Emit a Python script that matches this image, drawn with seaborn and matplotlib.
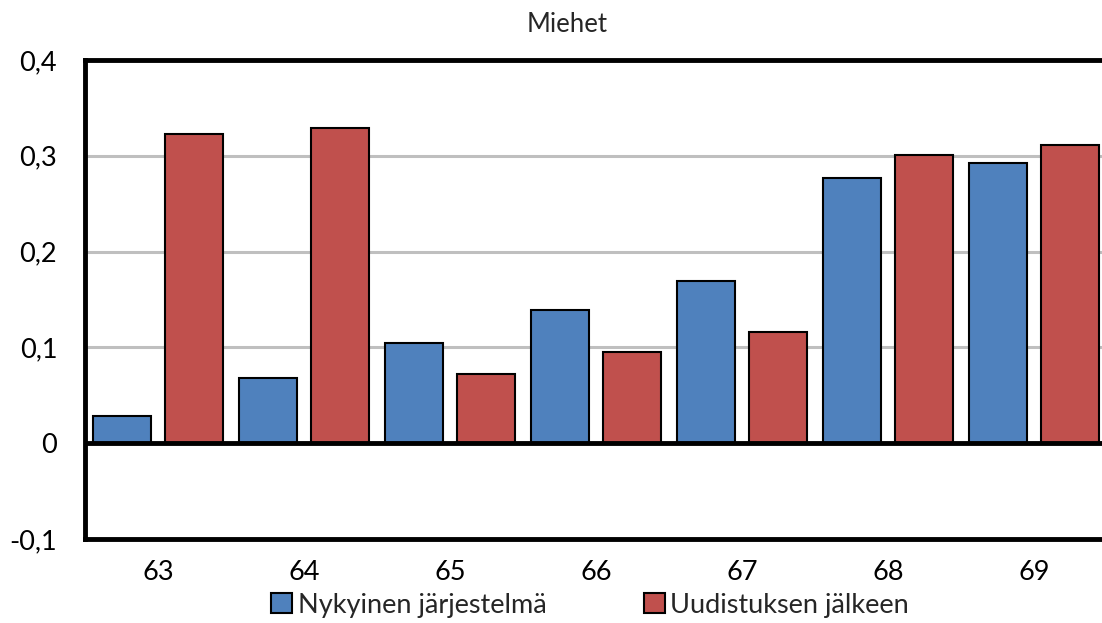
import matplotlib
matplotlib.use("Agg")
import matplotlib.pyplot as plt
import seaborn as sns
import pandas as pd
from matplotlib.patches import Patch

ages = ["63", "64", "65", "66", "67", "68", "69"]
current = [0.028, 0.068, 0.105, 0.139, 0.169, 0.277, 0.293]
reform = [0.323, 0.329, 0.072, 0.095, 0.116, 0.301, 0.311]
series_names = ["Nykyinen järjestelmä", "Uudistuksen jälkeen"]
y_ticks = [-0.1, 0.0, 0.1, 0.2, 0.3, 0.4]
y_labels = ["-0,1", "0", "0,1", "0,2", "0,3", "0,4"]

df = pd.DataFrame({
    "ikä": ages * 2,
    "osuus": current + reform,
    "sarja": [series_names[0]] * len(ages) + [series_names[1]] * len(ages),
})

sns.set_theme(style="white")
plt.rcParams["font.family"] = ["Lato", "DejaVu Sans"]

W, H = 1102, 623
fig = plt.figure(figsize=(W / 100, H / 100), dpi=100)
ax = fig.add_axes([85 / W, 1 - 539 / H, (1107 - 85) / W, (539 - 60) / H])

colors = ["#4F81BD", "#C0504D"]
sns.barplot(data=df, x="ikä", y="osuus", hue="sarja", palette=colors,
            saturation=1, width=0.98, gap=0.19, edgecolor="black", linewidth=1.5,
            legend=False, ax=ax, zorder=3)

ax.set_ylim(-0.1, 0.4)
ax.set_xlim(-0.5, len(ages) - 0.5)
ax.set_yticks(y_ticks)
ax.set_yticklabels(y_labels)
for v in [0.1, 0.2, 0.3]:
    ax.axhline(v, color="#BFBFBF", lw=2.2, zorder=1)
ax.axhline(0, color="black", lw=3.5, zorder=4)

for s in ax.spines.values():
    s.set_color("black")
    s.set_linewidth(3.5)
ax.spines["right"].set_visible(False)

ax.set_xlabel("")
ax.set_ylabel("")
ax.tick_params(axis="both", length=0, labelsize=19.5, colors="black")
ax.tick_params(axis="y", pad=20)
ax.tick_params(axis="x", pad=15)

fig.text(567 / W, 1 - 25 / H, "Miehet", ha="center", va="center", fontsize=18.5)

handles = [Patch(facecolor=c, edgecolor="black", linewidth=1.5) for c in colors]
fig.legend(handles, series_names, loc="center", bbox_to_anchor=(590 / W, 1 - 605 / H),
           ncol=2, frameon=False, fontsize=19.5, handlelength=0.78, handleheight=0.78,
           handletextpad=0.2, columnspacing=3.6, borderpad=0)

fig.savefig("out.png", dpi=100)
